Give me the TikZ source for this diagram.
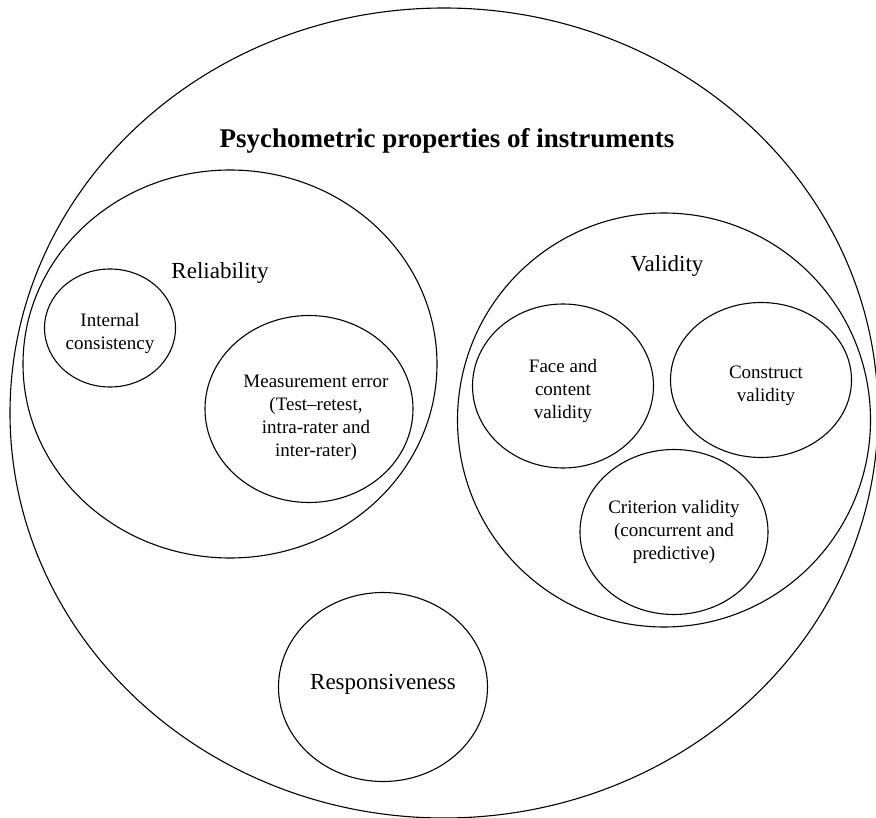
\documentclass[tikz,border=0pt]{standalone}
\usepackage{fontspec}
\setmainfont{Liberation Serif}
\usetikzlibrary{shapes.geometric}

\tikzset{
  bubble/.style={draw, ellipse, line width=1.1pt, inner sep=0pt},
  bubbletext/.style={align=center, inner sep=0pt, font=\fontsize{19}{23}\selectfont},
  grouplabel/.style={font=\fontsize{23}{28}\selectfont},
}

\begin{document}
\begin{tikzpicture}[x=1pt, y=-1pt]

  \useasboundingbox (0,0) rectangle (876,818);
  \clip (0,0) rectangle (876,818);

  % --- outer circle and title ---
  \node[bubble, minimum width=868pt, minimum height=810pt] (psych) at (444,413) {};
  \node[font=\fontsize{27}{32}\selectfont\bfseries] (title) at (447,141) {Psychometric properties of instruments};

  % --- Reliability ---
  \node[bubble, minimum width=414pt, minimum height=388pt] (reli) at (230,364) {};
  \node[grouplabel] (relilabel) at (220,273) {Reliability};
  \node[bubble, minimum width=131pt, minimum height=118pt] (internal) at (110,328) {};
  \node[bubbletext] (internaltext) at (110,333) {Internal\\consistency};
  \node[bubble, minimum width=208pt, minimum height=187pt] (measure) at (309,409) {};
  \node[bubbletext] (measuretext) at (316,418) {Measurement error\\(Test--retest,\\intra-rater and\\inter-rater)};

  % --- Validity ---
  \node[bubble, minimum width=413pt, minimum height=414pt] (valid) at (664,420) {};
  \node[grouplabel] (validlabel) at (667,266) {Validity};
  \node[bubble, minimum width=181pt, minimum height=164pt] (face) at (563,386) {};
  \node[bubbletext] (facetext) at (563,391) {Face and\\content\\validity};
  \node[bubble, minimum width=181pt, minimum height=155pt] (construct) at (761,380) {};
  \node[bubbletext] (constructtext) at (766,386) {Construct\\validity};
  \node[bubble, minimum width=188pt, minimum height=165pt] (criterion) at (674,532) {};
  \node[bubbletext] (criteriontext) at (674,532) {Criterion validity\\(concurrent and\\predictive)};

  % --- Responsiveness ---
  \node[bubble, minimum width=209pt, minimum height=189pt] (respons) at (383,687) {};
  \node[grouplabel] (responstext) at (383,684) {Responsiveness};

\end{tikzpicture}
\end{document}
